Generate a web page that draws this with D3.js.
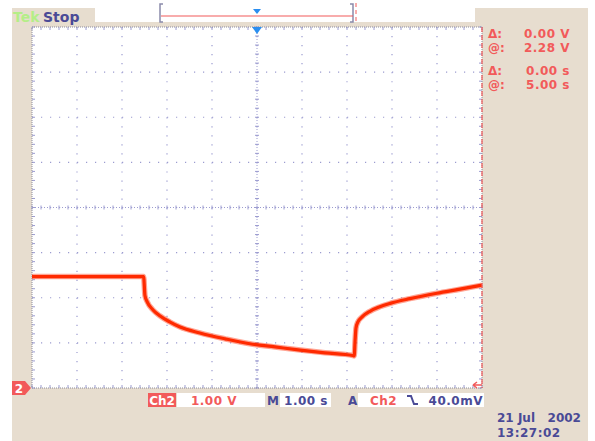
<!DOCTYPE html>
<html>
<head>
<meta charset="utf-8">
<script src="https://cdn.jsdelivr.net/npm/d3@7/dist/d3.min.js"></script>
<style>
  html, body { margin: 0; padding: 0; background: #ffffff; }
  svg { display: block; }
  text { font-family: "DejaVu Sans", Verdana, sans-serif; }
</style>
</head>
<body>
<svg id="scope" width="595" height="441"></svg>
<script>
// Channel 2 acquisition: time relative to trigger (s) and voltage (V)
const timeS = [-5.00, -2.52, -2.49, -2.44, -2.31, -2.16, -1.93, -1.71, -1.27, -0.71,
               -0.16, 0.40, 0.96, 1.51, 2.13, 2.16, 2.18, 2.20, 2.24, 2.33,
               2.51, 2.73, 2.96, 3.40, 4.00, 4.51, 5.00];
const volts = [2.47, 2.47, 2.05, 1.91, 1.73, 1.60, 1.46, 1.35, 1.22, 1.09,
               0.98, 0.91, 0.84, 0.78, 0.72, 0.71, 1.06, 1.33, 1.46, 1.57,
               1.70, 1.80, 1.875, 1.98, 2.10, 2.19, 2.28];

// Graticule: 10 horizontal divisions of 1.00 s, 8 vertical divisions of 1.00 V
const timeDomain = [-5, 5];
const voltDomain = [0, 8];
const minorPerDiv = 5;

// Cursor readouts on the right
const cursorSymbols = ["\u0394:", "@:", "\u0394:", "@:"];
const cursorValues = ["0.00 V", "2.28 V", "0.00 s", "5.00 s"];

// Bottom status readouts
const chScale = "1.00 V";
const timeScale = "1.00 s";
const trigLevel = "40.0mV";
const dateLine = "21 Jul   2002";
const timeLine = "13:27:02";

const svg = d3.select("#scope");
const W = 595, H = 441;
const plot = { left: 32, right: 482, top: 27, bottom: 388 };

const x = d3.scaleLinear().domain(timeDomain).range([plot.left, plot.right]);
const y = d3.scaleLinear().domain(voltDomain).range([plot.bottom, plot.top]);

const beige = "#e7ddcf";
const gridCol = "#9c9cd0";
const red = "#f25a5a";
const navy = "#4a4a96";

// Panel backgrounds
svg.append("rect").attr("x", 12).attr("y", 8).attr("width", 576).attr("height", H - 8).attr("fill", beige);
svg.append("rect").attr("x", 95).attr("y", 0).attr("width", 380).attr("height", 22).attr("fill", "#ffffff");
svg.append("rect").attr("x", plot.left).attr("y", plot.top)
  .attr("width", plot.right - plot.left).attr("height", plot.bottom - plot.top).attr("fill", "#ffffff");

// Run status
svg.append("text").attr("x", 13).attr("y", 22).attr("font-size", 14).attr("font-weight", "bold")
  .attr("fill", "#b4ee88").text("Tek");
svg.append("text").attr("x", 43).attr("y", 22).attr("font-size", 14).attr("font-weight", "bold")
  .attr("fill", navy).text("Stop");

// Record view bar
const rec = svg.append("g");
rec.append("path").attr("d", "M163,4 H160 V22 H163").attr("fill", "none").attr("stroke", "#8a8aaa").attr("stroke-width", 1.5);
rec.append("path").attr("d", "M350,4 H353 V22 H350").attr("fill", "none").attr("stroke", "#8a8aaa").attr("stroke-width", 1.5);
rec.append("line").attr("x1", 161).attr("x2", 353).attr("y1", 16).attr("y2", 16).attr("stroke", red).attr("stroke-width", 1.2);
rec.append("line").attr("x1", 356).attr("x2", 356).attr("y1", 3).attr("y2", 23)
  .attr("stroke", red).attr("stroke-width", 1).attr("stroke-dasharray", "4,3");
rec.append("path").attr("d", `M${x(0) - 4},9 H${x(0) + 4} L${x(0)},14 Z`).attr("fill", "#2a8ef0");

// Grid lines
const minorX = (plot.right - plot.left) / ((timeDomain[1] - timeDomain[0]) * minorPerDiv);
const minorY = (plot.bottom - plot.top) / ((voltDomain[1] - voltDomain[0]) * minorPerDiv);
const grid = svg.append("g");
x.ticks(10).filter(t => t > timeDomain[0] && t < timeDomain[1]).forEach(t => {
  grid.append("line").attr("x1", x(t)).attr("x2", x(t)).attr("y1", plot.top).attr("y2", plot.bottom)
    .attr("stroke", gridCol).attr("stroke-width", 1.2).attr("stroke-dasharray", `1.2,${minorY - 1.2}`);
});
y.ticks(8).filter(v => v > voltDomain[0] && v < voltDomain[1]).forEach(v => {
  grid.append("line").attr("x1", plot.left).attr("x2", plot.right).attr("y1", y(v)).attr("y2", y(v))
    .attr("stroke", gridCol).attr("stroke-width", 1.2).attr("stroke-dasharray", `1.2,${minorX - 1.2}`);
});

// Centre axes with minor tick crosses
const cx = x(0), cy = y(4);
grid.append("line").attr("x1", plot.left).attr("x2", plot.right).attr("y1", cy).attr("y2", cy)
  .attr("stroke", gridCol).attr("stroke-width", 1).attr("stroke-dasharray", "1,2");
grid.append("line").attr("x1", cx).attr("x2", cx).attr("y1", plot.top).attr("y2", plot.bottom)
  .attr("stroke", gridCol).attr("stroke-width", 1).attr("stroke-dasharray", "1,2");
d3.range(0, (timeDomain[1] - timeDomain[0]) * minorPerDiv + 1).forEach(i => {
  const px = plot.left + i * minorX;
  grid.append("line").attr("x1", px).attr("x2", px).attr("y1", cy - 2).attr("y2", cy + 2).attr("stroke", gridCol);
  grid.append("line").attr("x1", px).attr("x2", px).attr("y1", plot.top).attr("y2", plot.top + 3).attr("stroke", gridCol);
  grid.append("line").attr("x1", px).attr("x2", px).attr("y1", plot.bottom - 3).attr("y2", plot.bottom).attr("stroke", gridCol);
});
d3.range(0, (voltDomain[1] - voltDomain[0]) * minorPerDiv + 1).forEach(i => {
  const py = plot.top + i * minorY;
  grid.append("line").attr("x1", cx - 2).attr("x2", cx + 2).attr("y1", py).attr("y2", py).attr("stroke", gridCol);
  grid.append("line").attr("x1", plot.left).attr("x2", plot.left + 3).attr("y1", py).attr("y2", py).attr("stroke", gridCol);
  grid.append("line").attr("x1", plot.right - 3).attr("x2", plot.right).attr("y1", py).attr("y2", py).attr("stroke", gridCol);
});

// Graticule frame
svg.append("rect").attr("x", plot.left).attr("y", plot.top)
  .attr("width", plot.right - plot.left).attr("height", plot.bottom - plot.top)
  .attr("fill", "none").attr("stroke", "#8c8c9c").attr("stroke-width", 1).attr("stroke-dasharray", "1,1");

// Trigger position marker
svg.append("path").attr("d", `M${cx - 5},${plot.top} H${cx + 5} L${cx},${plot.top + 7} Z`).attr("fill", "#2a8ef0");

// Waveform
const line = d3.line().x((d, i) => x(timeS[i])).y(d => y(d)).curve(d3.curveMonotoneX);
svg.append("path").datum(volts).attr("d", line).attr("fill", "none")
  .attr("stroke", "#ff5a3a").attr("stroke-opacity", 0.55).attr("stroke-width", 5.5).attr("stroke-linejoin", "round");
svg.append("path").datum(volts).attr("d", line).attr("fill", "none")
  .attr("stroke", "#ff2a00").attr("stroke-width", 3.2).attr("stroke-linejoin", "round");

// Time cursor at the right edge
svg.append("line").attr("x1", x(5)).attr("x2", x(5)).attr("y1", plot.top).attr("y2", plot.bottom)
  .attr("stroke", red).attr("stroke-width", 1.2).attr("stroke-dasharray", "5,3");
svg.append("path").attr("d", `M${x(5)},${plot.bottom - 3} H${x(5) - 9} M${x(5) - 9},${plot.bottom - 3} l4,-3 M${x(5) - 9},${plot.bottom - 3} l4,3`)
  .attr("fill", "none").attr("stroke", red).attr("stroke-width", 1.5);

// Channel 2 ground marker
svg.append("path").attr("d", `M12,${y(0) - 7} H25 L31,${y(0)} L25,${y(0) + 7} H12 Z`).attr("fill", red);
svg.append("text").attr("x", 19).attr("y", y(0) + 5).attr("text-anchor", "middle").attr("font-size", 12)
  .attr("font-weight", "bold").attr("fill", "#ffffff").text("2");

// Cursor readouts
const rowY = [38, 52, 75, 89];
cursorSymbols.forEach((s, i) => {
  svg.append("text").attr("x", 488).attr("y", rowY[i]).attr("font-size", 12).attr("font-weight", "bold")
    .attr("fill", red).text(s);
  svg.append("text").attr("x", 570).attr("y", rowY[i]).attr("text-anchor", "end").attr("font-size", 12)
    .attr("font-weight", "bold").attr("letter-spacing", 0.5).attr("fill", red).text(cursorValues[i]);
});

// Bottom status line
const by = 405;
svg.append("rect").attr("x", 148).attr("y", 393).attr("width", 28).attr("height", 14).attr("fill", red);
svg.append("text").attr("x", 162).attr("y", by).attr("text-anchor", "middle").attr("font-size", 12)
  .attr("font-weight", "bold").attr("fill", "#ffffff").text("Ch2");
svg.append("rect").attr("x", 177).attr("y", 393).attr("width", 88).attr("height", 14).attr("fill", "#ffffff");
svg.append("text").attr("x", 237).attr("y", by).attr("text-anchor", "end").attr("font-size", 12)
  .attr("font-weight", "bold").attr("letter-spacing", 0.5).attr("fill", red).text(chScale);
svg.append("text").attr("x", 267).attr("y", by).attr("font-size", 12).attr("font-weight", "bold").attr("fill", navy).text("M");
svg.append("rect").attr("x", 280).attr("y", 393).attr("width", 51).attr("height", 14).attr("fill", "#ffffff");
svg.append("text").attr("x", 328).attr("y", by).attr("text-anchor", "end").attr("font-size", 12)
  .attr("font-weight", "bold").attr("letter-spacing", 0.5).attr("fill", navy).text(timeScale);
svg.append("text").attr("x", 348).attr("y", by).attr("font-size", 12).attr("font-weight", "bold").attr("fill", navy).text("A");
svg.append("rect").attr("x", 358).attr("y", 393).attr("width", 126).attr("height", 14).attr("fill", "#ffffff");
svg.append("text").attr("x", 370).attr("y", by).attr("font-size", 12).attr("font-weight", "bold")
  .attr("letter-spacing", 0.5).attr("fill", red).text("Ch2");
svg.append("path").attr("d", "M407,396 H411 L414,404 H418").attr("fill", "none").attr("stroke", navy).attr("stroke-width", 2);
svg.append("text").attr("x", 483).attr("y", by).attr("text-anchor", "end").attr("font-size", 12)
  .attr("font-weight", "bold").attr("letter-spacing", 0.5).attr("fill", navy).text(trigLevel);

// Date and time stamp
svg.append("text").attr("x", 497).attr("y", 422).attr("font-size", 12).attr("font-weight", "bold")
  .attr("fill", navy).attr("xml:space", "preserve").style("white-space", "pre").text(dateLine);
svg.append("text").attr("x", 497).attr("y", 437).attr("font-size", 12).attr("font-weight", "bold")
  .attr("letter-spacing", 0.5).attr("fill", navy).text(timeLine);
</script>
</body>
</html>
